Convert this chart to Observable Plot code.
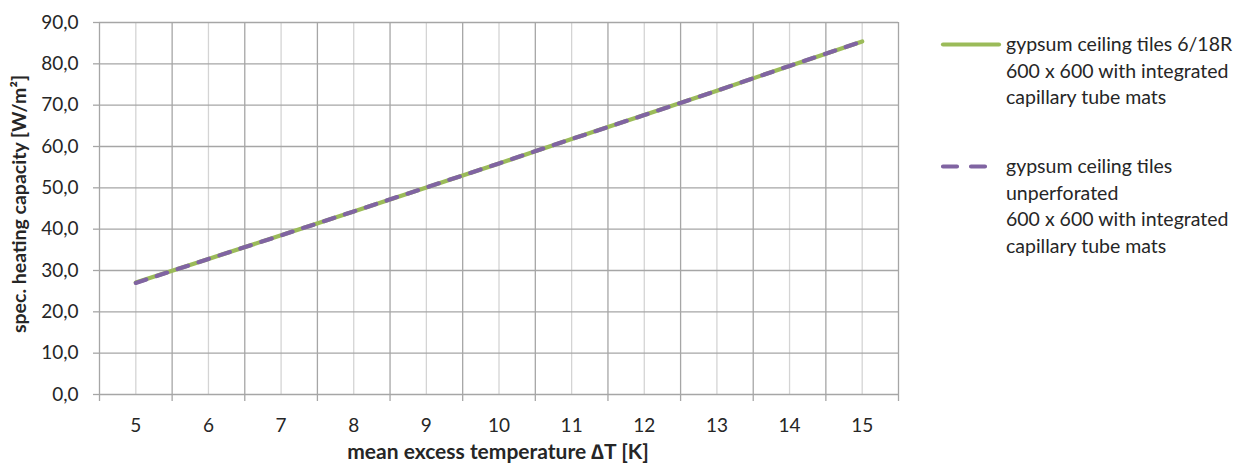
<!DOCTYPE html>
<html>
<head>
<meta charset="utf-8">
<script src="https://cdn.jsdelivr.net/npm/d3@7"></script>
<script src="https://cdn.jsdelivr.net/npm/@observablehq/plot@0.6"></script>
<style>
  html, body { margin: 0; padding: 0; background: #fff; }
  #wrap { position: relative; width: 1247px; height: 468px; font-family: Lato, "Noto Sans", sans-serif; }
  .leg { position: absolute; left: 940px; font-size: 19.5px; color: #262626; line-height: 26.7px; }
  .leg svg { position: absolute; left: 0; top: 0; }
  .leg div { margin-left: 66px; white-space: nowrap; }
</style>
</head>
<body>
<div id="wrap"></div>
<script>
const temps = [5, 6, 7, 8, 9, 10, 11, 12, 13, 14, 15];
const perforated = [27.1, 32.8, 38.5, 44.3, 50.1, 55.9, 61.8, 67.6, 73.5, 79.5, 85.4];
const unperforated = [27.0, 32.8, 38.5, 44.3, 50.1, 55.9, 61.8, 67.6, 73.5, 79.5, 85.4];
const yTicks = [0, 10, 20, 30, 40, 50, 60, 70, 80, 90];
const seriesNames = [
  "gypsum ceiling tiles 6/18R|600 x 600 with integrated|capillary tube mats",
  "gypsum ceiling tiles|unperforated|600 x 600 with integrated|capillary tube mats"
];
const colors = ["#9BBB59", "#8064A2"];

const boundaries = temps.map(t => t - 0.5).concat([temps[temps.length - 1] + 0.5]);
const rows = temps.flatMap((t, i) => [
  {t, v: perforated[i], s: 0},
  {t, v: unperforated[i], s: 1}
]);
const fmt = d => d3.format(".1f")(d).replace(".", ",");
const xMin = boundaries[0];

const chart = Plot.plot({
  width: 1247,
  height: 468,
  marginLeft: 99,
  marginRight: 349,
  marginTop: 22,
  marginBottom: 74,
  style: {fontFamily: "Lato, 'Noto Sans', sans-serif", fontSize: "19px", color: "#262626", background: "white", overflow: "visible"},
  x: {domain: [boundaries[0], boundaries[boundaries.length - 1]]},
  y: {domain: [0, 90]},
  marks: [
    Plot.ruleX(temps, {stroke: "#d4d4d4", strokeWidth: 1.3, strokeOpacity: 1}),
    Plot.ruleX(boundaries, {stroke: "#a6a6a6", strokeWidth: 1.3, strokeOpacity: 1}),
    Plot.ruleY(yTicks, {stroke: "#a6a6a6", strokeWidth: 1.3, strokeOpacity: 1}),
    Plot.axisY({ticks: yTicks, tickFormat: () => "", tickSize: 6, stroke: "#a6a6a6", strokeWidth: 1.3, label: null}),
    Plot.axisX({ticks: boundaries, tickSize: 7, tickFormat: () => "", stroke: "#a6a6a6", strokeWidth: 1.3, label: null}),
    Plot.text(yTicks, {x: () => xMin, y: d => d, text: fmt, dx: -21, textAnchor: "end", fontSize: 19, fill: "#262626", clip: false}),
    Plot.text(temps, {x: d => d, y: () => 0, text: d => String(d), dy: 31, fontSize: 19, fill: "#262626", clip: false}),
    Plot.line(rows.filter(d => d.s === 0), {x: "t", y: "v", stroke: colors[0], strokeWidth: 4.2, strokeLinecap: "round"}),
    Plot.line(rows.filter(d => d.s === 1), {x: "t", y: "v", stroke: colors[1], strokeWidth: 4.2, strokeDasharray: "11,11", strokeLinecap: "round"})
  ]
});

const wrap = document.getElementById("wrap");
wrap.appendChild(chart);

const svg = d3.select(chart);
svg.append("text")
  .attr("transform", "translate(26,204) rotate(-90)")
  .attr("text-anchor", "middle")
  .attr("font-weight", "bold")
  .attr("font-size", 19.5)
  .attr("fill", "#262626")
  .text("spec. heating capacity [W/m²]");
svg.append("text")
  .attr("x", 498)
  .attr("y", 459)
  .attr("text-anchor", "middle")
  .attr("font-weight", "bold")
  .attr("font-size", 21)
  .attr("fill", "#262626")
  .text("mean excess temperature \u2206T [K]");

// legend
const legTops = [31, 153];
seriesNames.forEach((name, i) => {
  const d = document.createElement("div");
  d.className = "leg";
  d.style.top = legTops[i] + "px";
  const dash = i === 1 ? 'stroke-dasharray="14,14"' : "";
  d.innerHTML = `<svg width="64" height="30"><line x1="3" x2="59" y1="13.5" y2="13.5" stroke="${colors[i]}" stroke-width="4.2" stroke-linecap="round" ${dash}/></svg>` +
    name.split("|").map(s => `<div>${s}</div>`).join("");
  wrap.appendChild(d);
});
</script>
</body>
</html>
